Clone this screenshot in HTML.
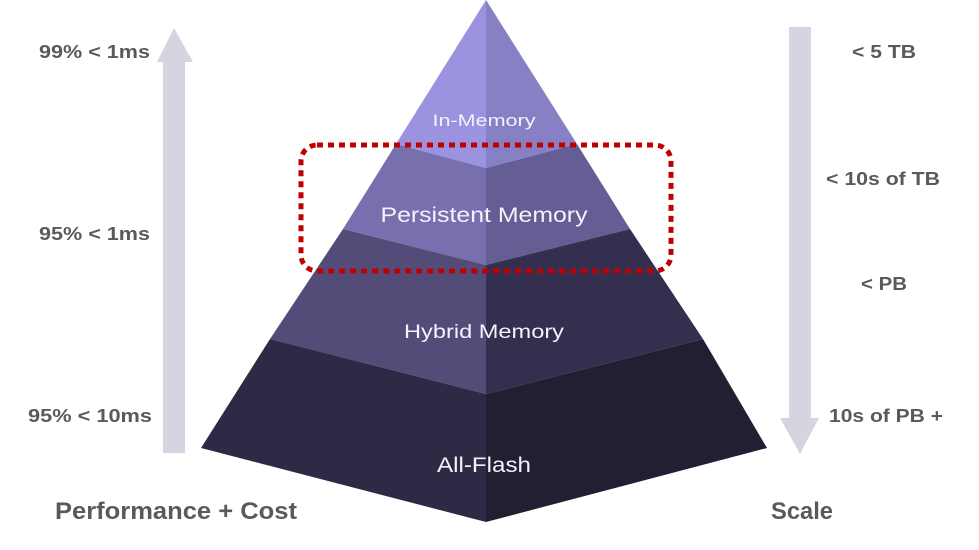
<!DOCTYPE html>
<html><head><meta charset="utf-8"><style>
html,body{margin:0;padding:0;background:#fff;}
svg{display:block;}
text{font-family:"Liberation Sans",sans-serif;}
</style></head><body>
<svg width="979" height="550" viewBox="0 0 979 550" xmlns="http://www.w3.org/2000/svg">
<!-- left arrow -->
<polygon points="174,28 193,62 185,62 185,453 163,453 163,62 157,62" fill="#d6d4e1"/>
<!-- right arrow -->
<polygon points="789,27 811,27 811,418 819,418 800,454 780,418 789,418" fill="#d6d4e1"/>
<!-- pyramid -->
<g>
<polygon points="486,0 396,144 486,168" fill="#9b93e0"/>
<polygon points="486,0 577,144 486,168" fill="#8880c5"/>
<polygon points="396,144 486,168 486,265 343,229" fill="#7870ae"/>
<polygon points="577,144 486,168 486,265 630,229" fill="#655e94"/>
<polygon points="343,229 486,265 486,394 270,339" fill="#534c78"/>
<polygon points="630,229 486,265 486,394 703,339" fill="#342f4e"/>
<polygon points="270,339 486,394 486,522 201,448" fill="#2e2a45"/>
<polygon points="703,339 486,394 486,522 767,448" fill="#221f33"/>
</g>
<!-- labels in pyramid -->
<g fill="#f4f2fa" text-anchor="middle">
<text x="484" y="126" font-size="17" textLength="103" lengthAdjust="spacingAndGlyphs">In-Memory</text>
<text x="484" y="222" font-size="21" textLength="207" lengthAdjust="spacingAndGlyphs">Persistent Memory</text>
<text x="484" y="338" font-size="19" textLength="160" lengthAdjust="spacingAndGlyphs">Hybrid Memory</text>
<text x="484" y="472" font-size="21" textLength="94" lengthAdjust="spacingAndGlyphs">All-Flash</text>
</g>
<!-- dotted red box -->
<rect x="301" y="145" width="370" height="126" rx="16" ry="16" fill="none" stroke="#c00000" stroke-width="5" stroke-dasharray="6 5"/>
<!-- left labels -->
<g fill="#5a5a5a" font-weight="bold" font-size="18">
<text x="39" y="58" textLength="111" lengthAdjust="spacingAndGlyphs">99% &lt; 1ms</text>
<text x="39" y="240" textLength="111" lengthAdjust="spacingAndGlyphs">95% &lt; 1ms</text>
<text x="28" y="422" textLength="124" lengthAdjust="spacingAndGlyphs">95% &lt; 10ms</text>
<text x="852" y="58" textLength="64" lengthAdjust="spacingAndGlyphs">&lt; 5 TB</text>
<text x="826" y="185" textLength="114" lengthAdjust="spacingAndGlyphs">&lt; 10s of TB</text>
<text x="861" y="290" textLength="46" lengthAdjust="spacingAndGlyphs">&lt; PB</text>
<text x="829" y="422" textLength="114" lengthAdjust="spacingAndGlyphs">10s of PB +</text>
</g>
<g fill="#5a5a5a" font-weight="bold" font-size="24">
<text x="55" y="519" textLength="242" lengthAdjust="spacingAndGlyphs">Performance + Cost</text>
<text x="771" y="519" textLength="62" lengthAdjust="spacingAndGlyphs">Scale</text>
</g>
</svg>
</body></html>
